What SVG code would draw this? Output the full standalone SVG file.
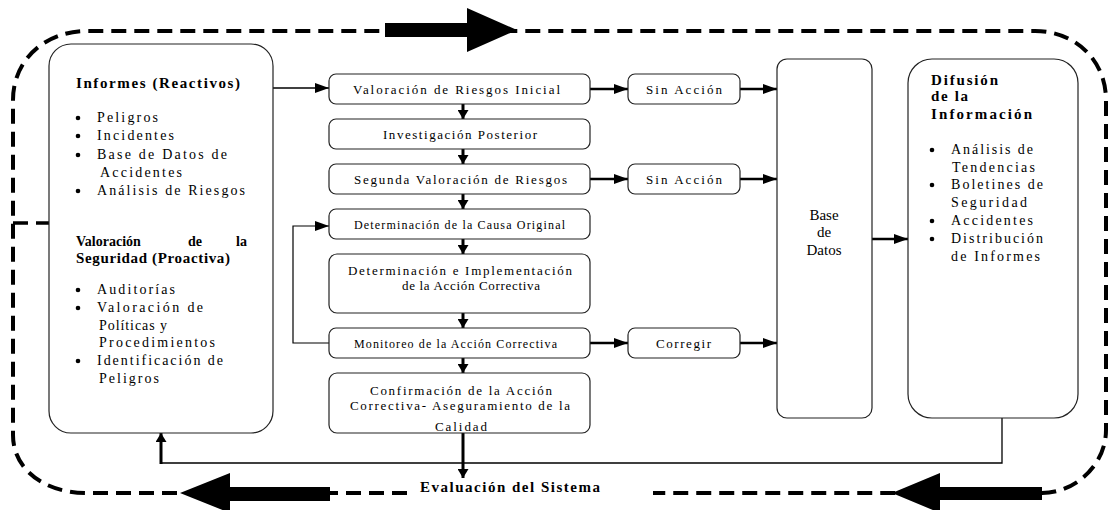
<svg xmlns="http://www.w3.org/2000/svg" width="1108" height="510" viewBox="0 0 1108 510">
<style>
.box{fill:#fff;stroke:#222;stroke-width:1.2}
.t{font-family:'Liberation Serif','DejaVu Serif','Noto Serif',serif;font-size:13px;fill:#000}
.s{font-size:12px}
.m{font-size:14px}
.b{font-weight:bold;font-size:15px}
.dash{fill:none;stroke:#000;stroke-width:4;stroke-dasharray:15 8}
.ln{fill:none;stroke:#000}
.thin{stroke-width:1.4}
.thk{stroke-width:2.6}
.v{stroke-width:3}
</style>
<defs>
<marker id="ah" markerUnits="userSpaceOnUse" markerWidth="14" markerHeight="10" refX="14" refY="5" orient="auto"><path d="M0,0 L14,5 L0,10 z" fill="#000"/></marker>
<marker id="ahv" markerUnits="userSpaceOnUse" markerWidth="9" markerHeight="11" refX="9" refY="5.5" orient="auto"><path d="M0,0 L9,5.5 L0,11 z" fill="#000"/></marker>
<clipPath id="cc"><rect x="329" y="373" width="261" height="59.4"/></clipPath>
</defs>

<g id="frame">
<path class="dash" d="M407 493 H87 C45 493 13 470 13 435 V100 C13 60 45 31 87 31 H1035 C1075 31 1106 60 1106 100 V430 C1106 465 1075 493 1042 493 H653"/>
<path class="dash" style="stroke-width:3.5" d="M13 223 H273"/>
<path d="M385 23 H467 V8 L517 30 L467 52 V37 H385 z" fill="#000"/>
<path d="M330 487 H230 V473 L180 493 L230 513 V501 H330 z" fill="#000"/>
<path d="M1042 487 H940 V473 L892 493 L940 513 V500 H1042 z" fill="#000"/>
<text class="t b" x="420" y="492" textLength="180" lengthAdjust="spacing">Evaluación del Sistema</text>
</g>

<g id="connectors">
<path class="ln thin" d="M273 88 H329" marker-end="url(#ah)"/>
<path class="ln thk" d="M590 89 H628" marker-end="url(#ah)"/>
<path class="ln thk" d="M740 89 H777" marker-end="url(#ah)"/>
<path class="ln thk" d="M590 179 H628" marker-end="url(#ah)"/>
<path class="ln thk" d="M740 179 H777" marker-end="url(#ah)"/>
<path class="ln thk" d="M590 343 H628" marker-end="url(#ah)"/>
<path class="ln thk" d="M740 343 H777" marker-end="url(#ah)"/>
<path class="ln thk" d="M872 239 H908" marker-end="url(#ah)"/>
<path class="ln v" d="M463 104 V119" marker-end="url(#ahv)"/>
<path class="ln v" d="M463 149 V164" marker-end="url(#ahv)"/>
<path class="ln v" d="M463 194 V209" marker-end="url(#ahv)"/>
<path class="ln v" d="M463 239 V254" marker-end="url(#ahv)"/>
<path class="ln v" d="M463 313 V328" marker-end="url(#ahv)"/>
<path class="ln v" d="M463 358 V373" marker-end="url(#ahv)"/>
<path class="ln v" d="M463 433 V478" marker-end="url(#ahv)"/>
<path class="ln" style="stroke-width:1.2" d="M329 343 H293 V226 H329" marker-end="url(#ah)"/>
<path class="ln" style="stroke-width:1.3" d="M1002 418 V463 H161"/>
<path class="ln v" d="M161 464 V433" marker-end="url(#ahv)"/>
</g>

<g id="informes">
<rect class="box" x="49" y="44" width="224" height="389" rx="22"/>
<text class="t b" x="76" y="88" textLength="164" lengthAdjust="spacing">Informes (Reactivos)</text>
<circle cx="78" cy="118" r="2.3"/><text class="t m" x="97" y="122" textLength="61" lengthAdjust="spacing">Peligros</text>
<circle cx="78" cy="136" r="2.3"/><text class="t m" x="97" y="140" textLength="77" lengthAdjust="spacing">Incidentes</text>
<circle cx="78" cy="155" r="2.3"/><text class="t m" x="97" y="159" textLength="130" lengthAdjust="spacing">Base de Datos de</text>
<text class="t m" x="100" y="177" textLength="82" lengthAdjust="spacing">Accidentes</text>
<circle cx="78" cy="191" r="2.3"/><text class="t m" x="97" y="195" textLength="148" lengthAdjust="spacing">Análisis de Riesgos</text>
<text class="t b" x="76" y="246" style="font-size:14px">Valoración</text>
<text class="t b" x="188" y="246" style="font-size:14px">de</text>
<text class="t b" x="236" y="246" style="font-size:14px">la</text>
<text class="t b" x="76" y="263" textLength="154" lengthAdjust="spacing">Seguridad (Proactiva)</text>
<circle cx="78" cy="290" r="2.3"/><text class="t m" x="97" y="294" textLength="78" lengthAdjust="spacing">Auditorías</text>
<circle cx="78" cy="308" r="2.3"/><text class="t m" x="97" y="312" textLength="106" lengthAdjust="spacing">Valoración de</text>
<text class="t m" x="99" y="330" textLength="68" lengthAdjust="spacing">Políticas y</text>
<text class="t m" x="99" y="347" textLength="116" lengthAdjust="spacing">Procedimientos</text>
<circle cx="78" cy="361" r="2.3"/><text class="t m" x="97" y="365" textLength="126" lengthAdjust="spacing">Identificación de</text>
<text class="t m" x="99" y="383" textLength="60" lengthAdjust="spacing">Peligros</text>
</g>

<g id="valoracion-inicial">
<rect class="box" x="329" y="74" width="261" height="30" rx="7"/>
<text class="t" x="353" y="94" textLength="207" lengthAdjust="spacing">Valoración de Riesgos Inicial</text>
</g>
<g id="investigacion">
<rect class="box" x="329" y="119" width="261" height="30" rx="7"/>
<text class="t" x="383" y="139" textLength="154" lengthAdjust="spacing">Investigación Posterior</text>
</g>
<g id="segunda-valoracion">
<rect class="box" x="329" y="164" width="261" height="30" rx="7"/>
<text class="t" x="354" y="184" textLength="213" lengthAdjust="spacing">Segunda Valoración de Riesgos</text>
</g>
<g id="causa-original">
<rect class="box" x="329" y="209" width="261" height="30" rx="7"/>
<text class="t s" x="354" y="229" textLength="211" lengthAdjust="spacing">Determinación de la Causa Original</text>
</g>
<g id="implementacion">
<rect class="box" x="329" y="254" width="261" height="59" rx="8"/>
<text class="t" x="348" y="275" textLength="224" lengthAdjust="spacing">Determinación e Implementación</text>
<text class="t" x="402" y="290" textLength="138" lengthAdjust="spacing">de la Acción Correctiva</text>
</g>
<g id="monitoreo">
<rect class="box" x="329" y="328" width="261" height="30" rx="7"/>
<text class="t s" x="354" y="348" textLength="203" lengthAdjust="spacing">Monitoreo de la Acción Correctiva</text>
</g>
<g id="confirmacion">
<rect class="box" x="329" y="373" width="261" height="60" rx="8"/>
<text class="t" x="370" y="395" textLength="182" lengthAdjust="spacing">Confirmación de la Acción</text>
<text class="t" x="350" y="410" textLength="220" lengthAdjust="spacing">Correctiva- Aseguramiento de la</text>
<text class="t" x="435" y="431" textLength="52" lengthAdjust="spacing" clip-path="url(#cc)">Calidad</text>
</g>
<g id="sin-accion-1">
<rect class="box" x="628" y="74" width="112" height="30" rx="7"/>
<text class="t" x="646" y="94" textLength="76" lengthAdjust="spacing">Sin Acción</text>
</g>
<g id="sin-accion-2">
<rect class="box" x="628" y="164" width="112" height="30" rx="7"/>
<text class="t" x="646" y="184" textLength="76" lengthAdjust="spacing">Sin Acción</text>
</g>
<g id="corregir">
<rect class="box" x="628" y="328" width="112" height="30" rx="7"/>
<text class="t" x="656" y="348" textLength="55" lengthAdjust="spacing">Corregir</text>
</g>
<g id="base-datos">
<rect class="box" x="777" y="59" width="95" height="359" rx="10"/>
<text class="t m" x="824" y="220" text-anchor="middle" style="font-size:15px">Base</text>
<text class="t m" x="824" y="237" text-anchor="middle" style="font-size:15px">de</text>
<text class="t m" x="824" y="255" text-anchor="middle" style="font-size:15px">Datos</text>
</g>
<g id="difusion">
<rect class="box" x="908" y="59" width="170" height="359" rx="24"/>
<text class="t b" x="931" y="85" textLength="67" lengthAdjust="spacing">Difusión</text>
<text class="t b" x="931" y="101" textLength="37" lengthAdjust="spacing">de la</text>
<text class="t b" x="931" y="119" textLength="101" lengthAdjust="spacing">Información</text>
<circle cx="932" cy="150" r="2.3"/><text class="t m" x="951" y="154" textLength="82" lengthAdjust="spacing">Análisis de</text>
<text class="t m" x="952" y="172" textLength="83" lengthAdjust="spacing">Tendencias</text>
<circle cx="932" cy="185" r="2.3"/><text class="t m" x="951" y="189" textLength="92" lengthAdjust="spacing">Boletines de</text>
<text class="t m" x="951" y="207" textLength="76" lengthAdjust="spacing">Seguridad</text>
<circle cx="932" cy="221" r="2.3"/><text class="t m" x="951" y="225" textLength="82" lengthAdjust="spacing">Accidentes</text>
<circle cx="932" cy="239" r="2.3"/><text class="t m" x="951" y="243" textLength="92" lengthAdjust="spacing">Distribución</text>
<text class="t m" x="951" y="261" textLength="89" lengthAdjust="spacing">de Informes</text>
</g>
</svg>
